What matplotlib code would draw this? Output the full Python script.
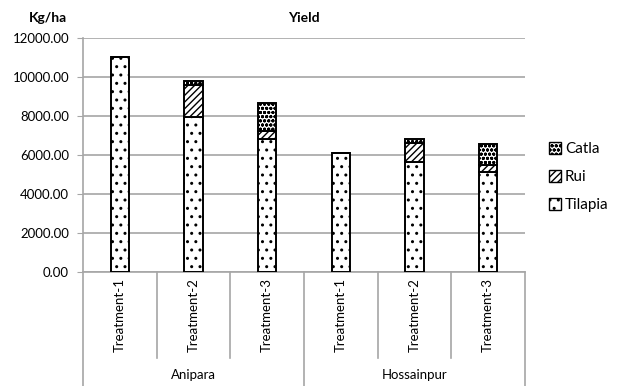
import numpy as np
import matplotlib.pyplot as plt
from matplotlib.patches import Patch

# 収量データ (Kg/ha)
sites = ['Anipara', 'Hossainpur']
treatments = ['Treatment-1', 'Treatment-2', 'Treatment-3']
tilapia = [11040, 7960, 6820, 6080, 5660, 5140]
rui = [0, 1610, 410, 0, 940, 350]
catla = [0, 240, 1450, 0, 240, 1060]

plt.rcParams['font.family'] = ['Lato', 'DejaVu Sans']
plt.rcParams['hatch.linewidth'] = 1.0

GRID = '#a6a6a6'
H_TIL, H_RUI, H_CAT = '..', '/////', 'oooo'

fig = plt.figure(figsize=(6.18, 3.86), dpi=100)
ax = fig.add_axes([83/618, 1-272/386, (525-83)/618, (272-38)/386])

x = np.arange(len(tilapia))
w = 0.25
tilapia = np.array(tilapia)
rui = np.array(rui)
catla = np.array(catla)

ax.bar(x, tilapia, w, color='white', edgecolor='black', hatch=H_TIL, linewidth=1.4, zorder=3)
ax.bar(x, rui, w, bottom=tilapia, color='white', edgecolor='black', hatch=H_RUI, linewidth=1.4, zorder=3)
ax.bar(x, catla, w, bottom=tilapia+rui, color='white', edgecolor='black', hatch=H_CAT, linewidth=1.4, zorder=3)

ax.set_xlim(-0.5, len(tilapia)-0.5)
ax.set_ylim(0, 12000)
ax.set_yticks(np.arange(0, 12001, 2000))
ax.set_yticklabels([f'{v:.2f}' for v in np.arange(0, 12001, 2000)], fontsize=9.5)
ax.yaxis.grid(True, color=GRID, linewidth=1.2, zorder=0)
ax.tick_params(axis='y', length=4, color=GRID, pad=6)
ax.set_xticks([])
for s in ['top', 'right']:
    ax.spines[s].set_visible(False)
for s in ['left', 'bottom']:
    ax.spines[s].set_color(GRID)
    ax.spines[s].set_linewidth(1.2)

# 階層カテゴリ軸
tr = ax.get_xaxis_transform()
for i in range(len(tilapia)):
    ax.text(i, -0.185, treatments[i % 3], rotation=90, ha='center', va='center',
            fontsize=9.5, transform=tr, clip_on=False)
for i in range(len(tilapia)+1):
    ymin = -0.49 if i % 3 == 0 else -0.367
    ax.plot([i-0.5, i-0.5], [0, ymin], color=GRID, linewidth=1.2,
            transform=tr, clip_on=False)
for j, site in enumerate(sites):
    ax.text(3*j+1, -0.44, site, ha='center', va='center', fontsize=9.5,
            transform=tr, clip_on=False)

fig.text(304/618, 1-18/386, 'Yield', ha='center', va='center', fontsize=10, fontweight='bold')
fig.text(48/618, 1-18/386, 'Kg/ha', ha='center', va='center', fontsize=10, fontweight='bold')

handles = [Patch(facecolor='white', edgecolor='black', hatch=H_CAT, label='Catla'),
           Patch(facecolor='white', edgecolor='black', hatch=H_RUI, label='Rui'),
           Patch(facecolor='white', edgecolor='black', hatch=H_TIL, label='Tilapia')]
fig.legend(handles=handles, loc='center left', bbox_to_anchor=(549/618, 1-177/386),
           frameon=False, fontsize=11, handlelength=0.8, handleheight=0.8,
           handletextpad=0.25, labelspacing=0.9, borderpad=0, borderaxespad=0)

fig.savefig('out.png', dpi=100)
